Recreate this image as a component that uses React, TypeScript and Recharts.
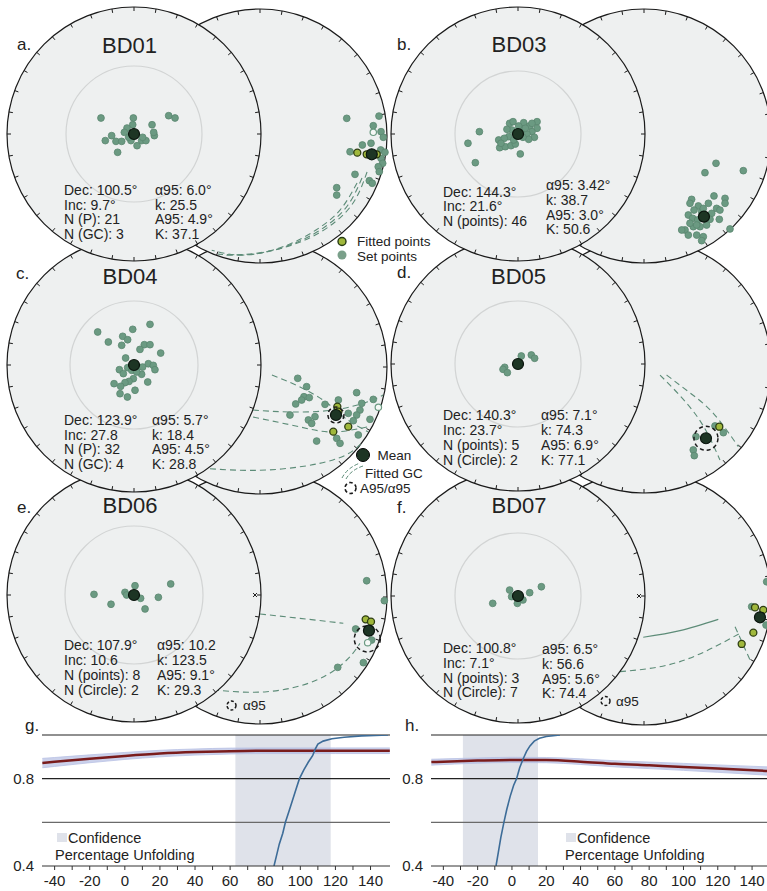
import React from "react";
import {
  ScatterChart, Scatter, XAxis, YAxis, ComposedChart, Line, Area,
  ReferenceArea, ReferenceLine,
} from "recharts";

const FONT = '"Liberation Sans", Arial, Helvetica, sans-serif';
const R = 127; // stereonet radius in px
const NET_W = 386;
const NET_H = 264;
const NET_X: [number, number] = [-130 / R, (NET_W - 130) / R];
const NET_Y: [number, number] = [-(NET_H / 2) / R, NET_H / 2 / R];
// right-hand net sits beside the left one, in the same projection units
const RIGHT_OFF = { x: 126 / R, y: -2 / R };
const RIGHT_NET = [RIGHT_OFF];
const LEFT_NET = [{ x: 0, y: 0 }];

const NET_FILL = "#eef0f0";
const SET_FILL = "#6b9a82";
const FIT_FILL = "#a0b83c";
const MEAN_FILL = "#1d3524";
const GC_COLOR = "#5d8c78";

type P = [number, number];

// ---- BD01 ----
const A_L_SET: P[] = [[-0.26, 0.126], [-0.005, 0.126], [-0.01, 0.073], [-0.055, 0.047], [0.142, 0.073], [0.273, 0.144], [0.323, 0.126], [-0.076, 0.013], [-0.176, -0.013], [-0.226, -0.052], [-0.142, -0.058], [-0.097, -0.058], [-0.024, -0.052], [0.024, -0.092], [0.06, -0.052], [0.094, -0.052], [0.16, -0.013], [-0.129, -0.144], [-0.042, -0.026], [0.068, -0.026], [0.155, 0.013]];
const A_R_SET: P[] = [[0.683, 0.139], [0.937, 0.157], [0.892, 0.081], [0.953, 0.034], [0.971, -0.01], [0.806, -0.071], [0.874, -0.057], [0.709, -0.124], [0.95, -0.11], [0.984, -0.128], [0.953, -0.176], [0.966, -0.215], [0.931, -0.242], [0.939, -0.281], [0.748, -0.302], [0.604, -0.407], [0.604, -0.465], [0.861, -0.352], [0.884, -0.372]];
const A_R_FIT: P[] = [[0.766, -0.131], [0.84, -0.144], [0.919, -0.144]];
const A_R_OPEN: P[] = [[0.892, 0.029]];
const A_R_MEAN: P[] = [[0.88, -0.144]];
const A_GC: P[][] = [
  [[0.843, -0.283], [0.748, -0.504], [0.591, -0.677], [0.354, -0.819], [0.039, -0.913], [-0.28, -0.94]],
  [[0.803, -0.331], [0.693, -0.543], [0.52, -0.709], [0.276, -0.843], [-0.039, -0.929], [-0.33, -0.93]],
  [[0.764, -0.37], [0.63, -0.583], [0.441, -0.74], [0.197, -0.866], [-0.118, -0.937], [-0.38, -0.9]],
];
const A_STATS_L = ["Dec: 100.5°", "Inc: 9.7°", "N (P): 21", "N (GC): 3"];
const A_STATS_R = ["α95: 6.0°", "k: 25.5", "A95: 4.9°", "K: 37.1"];

// ---- BD03 ----
const B_L_SET: P[] = [[-0.304, 0.018], [-0.394, -0.073], [-0.336, -0.226], [0.018, -0.157], [-0.152, -0.047], [-0.144, -0.108], [-0.1, -0.1], [-0.055, -0.092], [-0.021, -0.079], [-0.073, -0.021], [-0.108, -0.034], [-0.047, 0.031], [-0.066, 0.084], [-0.039, 0.097], [0.045, 0.089], [0.092, 0.063], [0.15, 0.097], [0.15, 0.045], [0.11, 0.018], [0.071, 0], [0.129, -0.026], [0.084, -0.042], [0.039, -0.026], [0.031, 0.037], [0.005, 0.063], [0.11, 0.084], [-0.034, -0.047], [0.058, 0.045], [-0.087, 0.037], [-0.134, -0.073]];
const B_R_SET: P[] = [[0.567, -0.215], [0.48, -0.289], [0.782, -0.273], [0.677, -0.732], [0.375, -0.499], [0.362, -0.53], [0.428, -0.551], [0.394, -0.583], [0.349, -0.622], [0.383, -0.648], [0.423, -0.661], [0.454, -0.596], [0.507, -0.53], [0.551, -0.472], [0.638, -0.491], [0.638, -0.53], [0.572, -0.57], [0.598, -0.583], [0.533, -0.609], [0.593, -0.656], [0.52, -0.656], [0.493, -0.701], [0.441, -0.714], [0.388, -0.714], [0.323, -0.74], [0.297, -0.74], [0.349, -0.78], [0.415, -0.78], [0.467, -0.793], [0.454, -0.824], [0.415, -0.701], [0.362, -0.687], [0.467, -0.57]];
const B_R_MEAN: P[] = [[0.472, -0.635]];
const B_STATS_L = ["Dec: 144.3°", "Inc: 21.6°", "N (points): 46"];
const B_STATS_R = ["α95: 3.42°", "k: 38.7", "A95: 3.0°", "K: 50.6"];

// ---- BD04 ----
const C_L_SET: P[] = [[-0.286, 0.26], [0.126, 0.32], [-0.01, 0.281], [-0.202, 0.181], [-0.089, 0.226], [-0.05, 0.199], [-0.097, 0.155], [0.081, 0.16], [0.126, 0.16], [0.047, 0.123], [0.21, 0.094], [-0.066, 0.055], [-0.115, -0.037], [-0.05, -0.021], [-0.018, -0.042], [0.034, -0.016], [0.068, -0.016], [0.113, 0.01], [0.152, -0.003], [0.165, -0.037], [0.06, -0.073], [-0.005, -0.108], [-0.039, -0.129], [-0.071, -0.139], [-0.157, -0.147], [-0.105, -0.168], [-0.11, -0.226], [-0.052, -0.252], [0.008, -0.199], [0.108, -0.134], [0.021, -0.055], [-0.084, -0.068]];
const C_R_SET: P[] = [[0.297, -0.089], [0.367, -0.155], [0.346, -0.234], [0.328, -0.26], [0.388, -0.241], [0.281, -0.291], [0.236, -0.378], [0.381, -0.417], [0.433, -0.391], [0.407, -0.444], [0.446, -0.583], [0.512, -0.294], [0.617, -0.26], [0.761, -0.202], [0.801, -0.286], [0.787, -0.339], [0.761, -0.378], [0.892, -0.255], [0.866, -0.412], [0.735, -0.423], [0.695, -0.365], [0.604, -0.562], [0.63, -0.601], [0.774, -0.535]];
const C_R_FIT: P[] = [[0.577, -0.509], [0.695, -0.47], [0.609, -0.312], [0.617, -0.352]];
const C_R_OPEN: P[] = [[0.932, -0.317]];
const C_R_MEAN: P[] = [[0.598, -0.378]];
const C_GC: P[][] = [
  [[0.094, -0.063], [0.315, -0.157], [0.528, -0.283], [0.669, -0.402], [0.85, -0.51]],
  [[-0.055, -0.339], [0.236, -0.354], [0.575, -0.339], [0.843, -0.276], [0.97, -0.22]],
  [[-0.055, -0.394], [0.315, -0.472], [0.575, -0.512], [0.843, -0.472]],
  [[-0.472, -0.795], [0.055, -0.811], [0.575, -0.732], [0.8, -0.6]],
];
const C_STATS_L = ["Dec: 123.9°", "Inc: 27.8", "N (P): 32", "N (GC): 4"];
const C_STATS_R = ["α95: 5.7°", "k: 18.4", "A95: 4.5°", "K: 28.8"];

// ---- BD05 ----
const D_L_SET: P[] = [[0.026, 0.063], [0.105, 0.071], [0.131, 0.045], [-0.105, -0.026], [-0.118, -0.042], [-0.084, -0.068]];
const D_R_SET: P[] = [[0.559, -0.472], [0.625, -0.525], [0.409, -0.556], [0.388, -0.661], [0.396, -0.706]];
const D_R_FIT: P[] = [[0.593, -0.478]];
const D_R_MEAN: P[] = [[0.488, -0.569]];
const D_GC: P[][] = [
  [[0.126, -0.071], [0.28, -0.23], [0.42, -0.4], [0.52, -0.57], [0.598, -0.74]],
  [[0.178, -0.071], [0.36, -0.21], [0.546, -0.373], [0.743, -0.635]],
];
const D_STATS_L = ["Dec: 140.3°", "Inc: 23.7°", "N (points): 5", "N (Circle): 2"];
const D_STATS_R = ["α95: 7.1°", "k: 74.3", "A95: 6.9°", "K: 77.1"];

// ---- BD06 ----
const E_L_SET: P[] = [[-0.315, 0.005], [-0.181, -0.073], [-0.071, 0.021], [0.008, 0.073], [-0.058, 0], [0.052, -0.026], [0.087, -0.11], [0.192, -0.018], [0.289, 0.087]];
const E_R_SET: P[] = [[0.84, 0.128], [0.979, -0.029], [0.753, -0.252], [0.879, -0.339], [0.814, -0.517], [0.612, -0.554]];
const E_R_FIT: P[] = [[0.832, -0.176], [0.874, -0.194]];
const E_R_OPEN: P[] = [[0.848, -0.36]];
const E_R_MEAN: P[] = [[0.858, -0.265]];
const E_A95: P[] = [[0.845, -0.33]];
const E_GC: P[][] = [
  [[0, -0.134], [0.315, -0.168], [0.656, -0.207]],
  [[-0.37, -0.732], [0.053, -0.746], [0.446, -0.654], [0.683, -0.496], [0.787, -0.365]],
];
const E_STATS_L = ["Dec: 107.9°", "Inc: 10.6", "N (points): 8", "N (Circle): 2"];
const E_STATS_R = ["α95: 10.2", "k: 123.5", "A95: 9.1°", "K: 29.3"];

// ---- BD07 ----
const F_L_SET: P[] = [[-0.066, 0.047], [-0.05, -0.005], [-0.005, -0.058], [0.039, -0.031], [0.092, 0.026], [0.184, 0.073], [-0.199, -0.058]];
const F_R_SET: P[] = [[0.961, -0.213], [0.848, -0.068], [0.966, 0.128]];
const F_R_FIT: P[] = [[0.874, -0.074], [0.939, -0.094], [0.861, -0.273], [0.769, -0.362]];
const F_R_MEAN: P[] = [[0.913, -0.152]];
const F_SOLID: P[][] = [[[-0.006, -0.309], [0.283, -0.257], [0.585, -0.168]]];
const F_GC: P[][] = [
  [[-0.189, -0.58], [0.283, -0.501], [0.756, -0.278]],
  [[0.717, -0.226], [0.835, -0.488]],
];
const F_STATS_L = ["Dec: 100.8°", "Inc: 7.1°", "N (points): 3", "N (Circle): 7"];
const F_STATS_R = ["a95: 6.5°", "k: 56.6", "A95: 5.6°", "K: 74.4"];

// ---- fold tests ----
const X_TICKS = [-40, -30, -20, -10, 0, 10, 20, 30, 40, 50, 60, 70, 80, 90, 100, 110, 120, 130, 140];
const Y_TICKS = [0.4, 0.6, 0.8, 1.0];

const G_X = [-47, -40, -20, 0, 20, 40, 60, 80, 100, 120, 151];
const G_TAU = [0.872, 0.877, 0.891, 0.904, 0.915, 0.922, 0.926, 0.928, 0.928, 0.928, 0.928];
const G_LO = [0.85, 0.856, 0.873, 0.888, 0.9, 0.908, 0.913, 0.915, 0.915, 0.915, 0.915];
const G_HI = [0.893, 0.897, 0.909, 0.92, 0.93, 0.936, 0.94, 0.941, 0.941, 0.941, 0.941];
const G_STEP_X = [85, 86.5, 88, 90, 91.5, 93.5, 95.5, 97.5, 99.5, 102, 104.5, 107, 108.5, 110, 113, 118, 125, 135, 150];
const G_STEP_Y = [0.4, 0.45, 0.5, 0.55, 0.6, 0.65, 0.7, 0.75, 0.8, 0.84, 0.875, 0.905, 0.935, 0.958, 0.972, 0.983, 0.99, 0.996, 1.0];
const G_BAND: [number, number] = [63, 117.3];

const H_X = [-47, -20, 0, 20, 40, 60, 80, 100, 120, 149];
const H_TAU = [0.876, 0.883, 0.886, 0.885, 0.878, 0.868, 0.861, 0.854, 0.846, 0.835];
const H_LO = [0.862, 0.871, 0.874, 0.873, 0.865, 0.854, 0.846, 0.838, 0.829, 0.816];
const H_HI = [0.889, 0.895, 0.898, 0.897, 0.891, 0.882, 0.876, 0.87, 0.863, 0.854];
const H_STEP_X = [-9.3, -8, -6.5, -4.7, -3, -1, 1, 2.7, 4.5, 6.5, 8.5, 10.5, 13, 16, 20, 28];
const H_STEP_Y = [0.4, 0.46, 0.53, 0.6, 0.66, 0.72, 0.77, 0.8, 0.85, 0.89, 0.925, 0.95, 0.972, 0.985, 0.993, 1.0];
const H_BAND: [number, number] = [-28.6, 15.2];

const pts = (list: P[]) => list.map(([x, y]) => ({ x, y }));
// points of the right-hand net, shifted to its centre
const ptsR = (list: P[]) => list.map(([x, y]) => ({ x: x + RIGHT_OFF.x, y: y + RIGHT_OFF.y }));

const TICK_DEG = Array.from({ length: 36 }, (_, i) => i * 10);

function netShape(inner: number, cross: boolean) {
  return (p: any) => {
    const { cx, cy } = p;
    return (
      <g>
        <circle cx={cx} cy={cy} r={R} fill={NET_FILL} stroke="#1a1a1a" strokeWidth={1.2} />
        {TICK_DEG.map((d) => {
          const a = (d * Math.PI) / 180;
          const s = Math.sin(a);
          const c = Math.cos(a);
          return (
            <line key={d} x1={cx + R * s} y1={cy - R * c} x2={cx + (R - 4) * s} y2={cy - (R - 4) * c}
              stroke="#1a1a1a" strokeWidth={1} />
          );
        })}
        {inner > 0 && <circle cx={cx} cy={cy} r={inner} fill="none" stroke="#d2d4d4" strokeWidth={1.2} />}
        {cross && (
          <g stroke="#222" strokeWidth={1}>
            <line x1={cx + R - 4} y1={cy - 2} x2={cx + R - 8} y2={cy + 2} />
            <line x1={cx + R - 8} y1={cy - 2} x2={cx + R - 4} y2={cy + 2} />
          </g>
        )}
      </g>
    );
  };
}

const dot = (r: number, fill: string, stroke: string, sw: number) => (p: any) =>
  <circle cx={p.cx} cy={p.cy} r={r} fill={fill} stroke={stroke} strokeWidth={sw} />;

const ring = (r: number) => (p: any) =>
  <circle cx={p.cx} cy={p.cy} r={r} fill="none" stroke="#1a1a1a" strokeWidth={1.5} strokeDasharray="4 3" />;

const noShape = () => <g />;

interface Panel {
  letter: string; title: string; cx: number; cy: number; inner: number; cross?: boolean;
  lSet: P[]; rSet: P[]; rFit?: P[]; rOpen?: P[]; rMean: P[]; a95?: P[]; a95r?: number;
  gc?: P[][]; solid?: P[][];
  statsL: string[]; statsR: string[];
  textL: [number, number]; textR: [number, number]; lineStep: number;
  letterPos: [number, number]; titlePos: [number, number];
}

const PANELS: Panel[] = [
  { letter: "e.", title: "BD06", cx: 134, cy: 595, inner: 69, cross: true, lSet: E_L_SET, rSet: E_R_SET, rFit: E_R_FIT, rOpen: E_R_OPEN, rMean: E_R_MEAN, a95: E_A95, a95r: 13, gc: E_GC, statsL: E_STATS_L, statsR: E_STATS_R, textL: [64, 650], textR: [157, 650], lineStep: 15, letterPos: [17, 513], titlePos: [130, 513] },
  { letter: "f.", title: "BD07", cx: 518, cy: 596, inner: 63, cross: true, lSet: F_L_SET, rSet: F_R_SET, rFit: F_R_FIT, rMean: F_R_MEAN, gc: F_GC, solid: F_SOLID, statsL: F_STATS_L, statsR: F_STATS_R, textL: [443, 653], textR: [542, 654], lineStep: 14.8, letterPos: [397, 513], titlePos: [519, 513] },
  { letter: "c.", title: "BD04", cx: 134, cy: 365, inner: 64, lSet: C_L_SET, rSet: C_R_SET, rFit: C_R_FIT, rOpen: C_R_OPEN, rMean: C_R_MEAN, a95: C_R_MEAN, a95r: 8, gc: C_GC, statsL: C_STATS_L, statsR: C_STATS_R, textL: [64, 425], textR: [152, 425], lineStep: 14.5, letterPos: [16, 279], titlePos: [130, 284] },
  { letter: "d.", title: "BD05", cx: 518, cy: 364, inner: 63, lSet: D_L_SET, rSet: D_R_SET, rFit: D_R_FIT, rMean: D_R_MEAN, a95: D_R_MEAN, a95r: 12, gc: D_GC, statsL: D_STATS_L, statsR: D_STATS_R, textL: [443, 420], textR: [541, 420], lineStep: 15, letterPos: [397, 278], titlePos: [518.5, 284] },
  { letter: "a.", title: "BD01", cx: 134, cy: 134, inner: 68, lSet: A_L_SET, rSet: A_R_SET, rFit: A_R_FIT, rOpen: A_R_OPEN, rMean: A_R_MEAN, gc: A_GC, statsL: A_STATS_L, statsR: A_STATS_R, textL: [64, 195], textR: [155, 195], lineStep: 14.5, letterPos: [17, 50], titlePos: [129.5, 53] },
  { letter: "b.", title: "BD03", cx: 518, cy: 134, inner: 63, lSet: B_L_SET, rSet: B_R_SET, rMean: B_R_MEAN, statsL: B_STATS_L, statsR: B_STATS_R, textL: [443, 196.5], textR: [546, 190], lineStep: 14.8, letterPos: [397, 50], titlePos: [519, 52] },
];

function Net({ p }: { p: Panel }) {
  return (
    <div style={{ position: "absolute", left: p.cx - 130, top: p.cy - NET_H / 2 }}>
      <ScatterChart width={NET_W} height={NET_H} margin={{ top: 0, right: 0, bottom: 0, left: 0 }}>
        <XAxis type="number" dataKey="x" domain={NET_X} hide allowDataOverflow />
        <YAxis type="number" dataKey="y" domain={NET_Y} hide allowDataOverflow />
        <Scatter data={RIGHT_NET} shape={netShape(0, false)} isAnimationActive={false} />
        {(p.gc || []).map((arc, i) => (
          <Scatter key={`gc${i}`} data={ptsR(arc)} shape={noShape} lineJointType="natural"
            line={{ stroke: GC_COLOR, strokeWidth: 1.1, strokeDasharray: "6 4" }} isAnimationActive={false} />
        ))}
        {(p.solid || []).map((arc, i) => (
          <Scatter key={`s${i}`} data={ptsR(arc)} shape={noShape} lineJointType="natural"
            line={{ stroke: GC_COLOR, strokeWidth: 1.2 }} isAnimationActive={false} />
        ))}
        <Scatter data={ptsR(p.rSet)} shape={dot(3.4, SET_FILL, "#5a8670", 0.8)} isAnimationActive={false} />
        {p.rOpen && <Scatter data={ptsR(p.rOpen)} shape={dot(3.2, "#f6f8f6", SET_FILL, 1.2)} isAnimationActive={false} />}
        {p.rFit && <Scatter data={ptsR(p.rFit)} shape={dot(3.5, FIT_FILL, "#2d3d12", 1.3)} isAnimationActive={false} />}
        {p.a95 && <Scatter data={ptsR(p.a95)} shape={ring(p.a95r || 8)} isAnimationActive={false} />}
        <Scatter data={ptsR(p.rMean)} shape={dot(5.5, MEAN_FILL, "#0a140d", 1.2)} isAnimationActive={false} />
        <Scatter data={LEFT_NET} shape={netShape(p.inner, !!p.cross)} isAnimationActive={false} />
        <Scatter data={pts(p.lSet)} shape={dot(3.4, SET_FILL, "#5a8670", 0.8)} isAnimationActive={false} />
        <Scatter data={LEFT_NET} shape={dot(5.5, MEAN_FILL, "#0a140d", 1.2)} isAnimationActive={false} />
      </ScatterChart>
    </div>
  );
}

interface FoldProps {
  left: number; width: number; domain: [number, number];
  xs: number[]; tau: number[]; lo: number[]; hi: number[];
  stepX: number[]; stepY: number[]; band: [number, number];
}

function FoldTest({ left, width, domain, xs, tau, lo, hi, stepX, stepY, band }: FoldProps) {
  const rows = xs.map((x, i) => ({ x, tau: tau[i], env: [lo[i], hi[i]] }));
  const step = stepX.map((x, i) => ({ x, y: stepY[i] }));
  const tick = { fill: "#222", fontSize: 15, fontFamily: FONT };
  return (
    <div style={{ position: "absolute", left, top: 720 }}>
      <ComposedChart width={width} height={171} data={rows} margin={{ top: 15, right: 0, bottom: 0, left: 0 }}>
        <XAxis type="number" dataKey="x" domain={domain} allowDataOverflow ticks={X_TICKS} interval={0}
          tickFormatter={(v: number) => (v % 20 === 0 ? String(v) : "")}
          height={25} tickSize={4} tickMargin={5} stroke="#333" tick={tick} />
        <YAxis type="number" domain={[0.4, 1.0]} allowDataOverflow ticks={Y_TICKS} interval={0}
          tickFormatter={(v: number) => (v === 0.4 || v === 0.8 ? v.toFixed(1) : "")}
          width={42} axisLine={false} tickLine={false} tickSize={6} tickMargin={2} tick={tick} />
        <ReferenceArea x1={band[0]} x2={band[1]} y1={0.4} y2={1.0} fill="#dfe2ea" fillOpacity={1} stroke="none" />
        <ReferenceLine y={0.6} stroke="#6a6a6a" strokeWidth={1.2} />
        <ReferenceLine y={0.8} stroke="#222" strokeWidth={1.2} />
        <ReferenceLine y={1.0} stroke="#222" strokeWidth={1.2} />
        <Area dataKey="env" type="monotone" fill="#a8b3de" fillOpacity={0.6} stroke="#b9c1e4" strokeWidth={0.8} isAnimationActive={false} />
        <Line dataKey="tau" type="monotone" stroke="#7a1c1c" strokeWidth={2.5} dot={false} isAnimationActive={false} />
        <Line data={step} dataKey="y" type="linear" stroke="#3d6c98" strokeWidth={1.6} dot={false} isAnimationActive={false} />
      </ComposedChart>
    </div>
  );
}

function Labels() {
  const txt = { fontFamily: FONT, fill: "#222" };
  return (
    <svg width={767} height={891} style={{ position: "absolute", left: 0, top: 0, pointerEvents: "none" }}>
      {PANELS.map((p) => (
        <g key={p.title} {...txt}>
          <text x={p.letterPos[0]} y={p.letterPos[1]} fontSize={17}>{p.letter}</text>
          <text x={p.titlePos[0]} y={p.titlePos[1]} fontSize={22} textAnchor="middle">{p.title}</text>
          {p.statsL.map((s, i) => (
            <text key={`l${i}`} x={p.textL[0]} y={p.textL[1] + i * p.lineStep} fontSize={14}>{s}</text>
          ))}
          {p.statsR.map((s, i) => (
            <text key={`r${i}`} x={p.textR[0]} y={p.textR[1] + i * p.lineStep} fontSize={14}>{s}</text>
          ))}
        </g>
      ))}
      <g {...txt} fontSize={13.5}>
        <circle cx={342} cy={241.5} r={4} fill={FIT_FILL} stroke="#263a14" strokeWidth={1.4} />
        <text x={357} y={246}>Fitted points</text>
        <circle cx={342} cy={255} r={4.5} fill="#7aa08a" />
        <text x={357} y={260.5}>Set points</text>

        <circle cx={363} cy={455} r={6.5} fill={MEAN_FILL} stroke="#000" strokeWidth={1} />
        <text x={377.5} y={460}>Mean</text>
        <path d="M342 478 Q347 468 360 463" fill="none" stroke={GC_COLOR} strokeWidth={1} strokeDasharray="4 2" />
        <path d="M346 479 Q351 470 363 466" fill="none" stroke={GC_COLOR} strokeWidth={1} strokeDasharray="4 2" />
        <text x={365} y={478}>Fitted GC</text>
        <circle cx={350.5} cy={488} r={5.5} fill="none" stroke="#1a1a1a" strokeWidth={1.6} strokeDasharray="3.5 2.5" />
        <text x={360} y={493}>A95/α95</text>

        <circle cx={231.5} cy={705.5} r={4.5} fill="none" stroke="#1a1a1a" strokeWidth={1.5} strokeDasharray="3 2" />
        <text x={243} y={710}>α95</text>
        <circle cx={605.5} cy={701} r={4.5} fill="none" stroke="#1a1a1a" strokeWidth={1.5} strokeDasharray="3 2" />
        <text x={616} y={706}>α95</text>
      </g>
      <g {...txt} fontSize={17}>
        <text x={25} y={731}>g.</text>
        <text x={405} y={731}>h.</text>
      </g>
      <g {...txt} fontSize={14.5}>
        <rect x={57} y={833} width={10} height={9} fill="#dfe2ea" />
        <text x={68} y={842.5}>Confidence</text>
        <text x={55} y={859.5}>Percentage Unfolding</text>
        <rect x={566} y={833} width={10} height={9} fill="#dfe2ea" />
        <text x={577} y={842.5}>Confidence</text>
        <text x={565} y={859.5}>Percentage Unfolding</text>
      </g>
    </svg>
  );
}

export default function App() {
  return (
    <div style={{ position: "absolute", left: 0, top: 0, width: 767, height: 891, overflow: "hidden", background: "#fff", fontFamily: FONT }}>
      {PANELS.map((p) => <Net key={p.title} p={p} />)}
      <FoldTest left={0} width={390} domain={[-47.2, 151.1]} xs={G_X} tau={G_TAU} lo={G_LO} hi={G_HI}
        stepX={G_STEP_X} stepY={G_STEP_Y} band={G_BAND} />
      <FoldTest left={389} width={378} domain={[-47.2, 148.7]} xs={H_X} tau={H_TAU} lo={H_LO} hi={H_HI}
        stepX={H_STEP_X} stepY={H_STEP_Y} band={H_BAND} />
      <Labels />
    </div>
  );
}
